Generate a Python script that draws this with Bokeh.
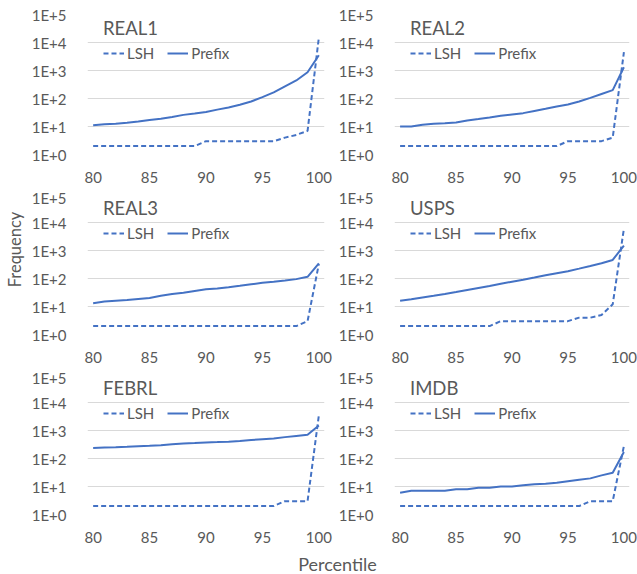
import math
from bokeh.plotting import figure
from bokeh.models import Range1d, FixedTicker, CustomJSTickFormatter, Legend, LegendItem
from bokeh.layouts import row, column
from bokeh.embed import file_html
from bokeh.resources import INLINE
from bokeh.core.properties import value

# ---------------- data ----------------
percentile = [80, 81, 82, 83, 84, 85, 86, 87, 88, 89, 90,
              91, 92, 93, 94, 95, 96, 97, 98, 99, 100]
x_ticks = [80, 85, 90, 95, 100]
y_ticks = [1, 10, 100, 1000, 10000, 100000]

panel_names = ["REAL1", "REAL2", "REAL3", "USPS", "FEBRL", "IMDB"]

real1_lsh = [2, 2, 2, 2, 2, 2, 2, 2, 2, 2, 3, 3, 3, 3, 3, 3, 3, 4, 5, 7, 15000]
real1_prefix = [11, 12, 12.5, 13.5, 15, 17, 19, 22, 26, 29, 33, 40, 48, 60, 78, 112, 165, 270, 440, 870, 3500]

real2_lsh = [2, 2, 2, 2, 2, 2, 2, 2, 2, 2, 2, 2, 2, 2, 2, 3, 3, 3, 3, 4, 4500]
real2_prefix = [10, 10, 11.5, 12.5, 13, 14, 16.5, 18.5, 21, 24, 27, 30, 36, 43, 52, 61, 78, 105, 145, 200, 1300]

real3_lsh = [2, 2, 2, 2, 2, 2, 2, 2, 2, 2, 2, 2, 2, 2, 2, 2, 2, 2, 2, 3, 330]
real3_prefix = [13, 15, 16, 17, 18.5, 20, 24, 28, 31, 36, 41, 44, 49, 55, 62, 70, 77, 85, 95, 115, 350]

usps_lsh = [2, 2, 2, 2, 2, 2, 2, 2, 2, 3, 3, 3, 3, 3, 3, 3, 4, 4, 5, 12, 6000]
usps_prefix = [16, 18, 21, 24, 28, 33, 39, 46, 54, 65, 77, 91, 108, 130, 155, 182, 225, 280, 350, 460, 1500]

febrl_lsh = [2, 2, 2, 2, 2, 2, 2, 2, 2, 2, 2, 2, 2, 2, 2, 2, 2, 3, 3, 3, 3500]
febrl_prefix = [235, 245, 250, 262, 275, 283, 300, 320, 340, 355, 372, 385, 400, 420, 455, 490, 520, 580, 640, 700, 1500]

imdb_lsh = [2, 2, 2, 2, 2, 2, 2, 2, 2, 2, 2, 2, 2, 2, 2, 2, 2, 3, 3, 3, 280]
imdb_prefix = [6, 7, 7, 7, 7, 8, 8, 9, 9, 10, 10, 11, 12, 12.5, 13.5, 15.5, 17.5, 19.5, 25, 31, 170]

lsh_series = [real1_lsh, real2_lsh, real3_lsh, usps_lsh, febrl_lsh, imdb_lsh]
prefix_series = [real1_prefix, real2_prefix, real3_prefix, usps_prefix, febrl_prefix, imdb_prefix]

# ---------------- style ----------------
BLUE = "#4472C4"
TEXT = "#595959"
GRID = "#D9D9D9"
FONT = "Lato"

# row heights / top borders so frames sit at y = 14, 194, 374
ROW_H = [188, 180, 180]
ROW_TOP = [14, 6, 6]


def make_panel(name, lsh, prefix, left_col, r):
    if left_col:
        w, bl, br = 307, 54, 11
    else:
        w, bl, br = 302, 51, 8
    p = figure(width=w, height=ROW_H[r], y_axis_type="log",
               x_range=Range1d(79.5, 100.5), y_range=Range1d(1, 100000),
               min_border_left=bl, min_border_right=br,
               min_border_top=ROW_TOP[r], min_border_bottom=ROW_H[r] - ROW_TOP[r] - 140,
               toolbar_location=None, output_backend="svg",
               outline_line_color=None)
    p.xgrid.visible = False
    p.ygrid.grid_line_color = GRID
    p.ygrid.grid_line_width = 1
    p.xaxis.ticker = FixedTicker(ticks=x_ticks)
    p.yaxis.ticker = FixedTicker(ticks=y_ticks)
    p.yaxis.formatter = CustomJSTickFormatter(
        code="return '1E+' + Math.round(Math.log10(tick));")
    for ax in (p.xaxis, p.yaxis):
        ax.axis_line_color = None
        ax.major_tick_line_color = None
        ax.minor_tick_line_color = None
        ax.major_label_text_font = FONT
        ax.major_label_text_font_size = "15px"
        ax.major_label_text_color = TEXT
    p.xaxis.major_label_standoff = 11
    p.yaxis.major_label_standoff = 15

    r_lsh = p.line(percentile, lsh, line_color=BLUE, line_width=2,
                   line_dash="5 3")
    r_pre = p.line(percentile, prefix, line_color=BLUE, line_width=2)

    leg = Legend(items=[LegendItem(label="LSH", renderers=[r_lsh]),
                        LegendItem(label="Prefix", renderers=[r_pre])],
                 orientation="horizontal", location=(16, 92),
                 title=name, title_text_font=FONT, title_text_font_size="18.5px",
                 title_text_color=TEXT, title_text_font_style="normal",
                 title_standoff=5,
                 label_text_font=FONT, label_text_font_size="15px",
                 label_text_color=TEXT, label_standoff=3,
                 glyph_width=21, glyph_height=16, label_height=16,
                 spacing=13, padding=4, margin=0,
                 border_line_color=None, background_fill_alpha=0)
    p.add_layout(leg)
    return p


panels = [make_panel(panel_names[i], lsh_series[i], prefix_series[i], i % 2 == 0, i // 2)
          for i in range(6)]

GRID_H = sum(ROW_H)  # 548

freq_fig = figure(width=28, height=GRID_H, x_range=Range1d(0, 28), y_range=Range1d(0, GRID_H),
                  min_border=0, x_axis_location=None, y_axis_location=None,
                  toolbar_location=None, output_backend="svg", outline_line_color=None)
freq_fig.grid.visible = False
freq_fig.text(x=[14], y=[GRID_H - 249], text=["Frequency"], angle=math.pi / 2,
              text_align="center", text_baseline="middle",
              text_font=value(FONT), text_font_size="16.5px", text_color=TEXT)

pct_fig = figure(width=637, height=26, x_range=Range1d(0, 637), y_range=Range1d(0, 26),
                 min_border=0, x_axis_location=None, y_axis_location=None,
                 toolbar_location=None, output_backend="svg", outline_line_color=None)
pct_fig.grid.visible = False
pct_fig.text(x=[337], y=[11], text=["Percentile"],
             text_align="center", text_baseline="middle",
             text_font=value(FONT), text_font_size="18px", text_color=TEXT)

grid = column(row(panels[0], panels[1]), row(panels[2], panels[3]), row(panels[4], panels[5]))
layout = column(row(freq_fig, grid), pct_fig)

open("out.html", "w").write(file_html(layout, INLINE))
